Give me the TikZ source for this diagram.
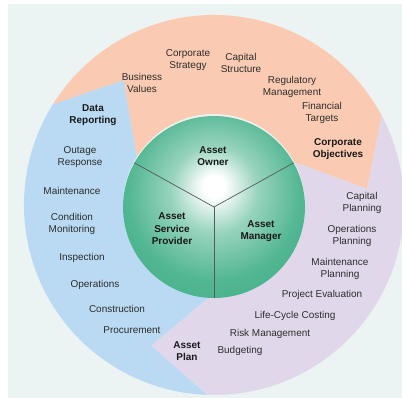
\documentclass[tikz,border=0pt]{standalone}
\usepackage{fontspec}
\setmainfont{Liberation Sans}
\begin{document}
\definecolor{panel}{RGB}{235,244,242}
\definecolor{peach}{RGB}{250,203,178}
\definecolor{skyb}{RGB}{185,218,242}
\definecolor{lav}{RGB}{225,215,235}
\definecolor{teal}{RGB}{38,164,118}
\definecolor{ink}{RGB}{45,45,45}
\pgfdeclareradialshading{greenball}{\pgfpoint{0bp}{6bp}}{%
  color(0bp)=(white); color(3bp)=(white);
  color(12bp)=(teal!48); color(24bp)=(teal!80); color(45bp)=(teal!95); color(58bp)=(teal)}
\begin{tikzpicture}[x=1bp,y=1bp,
  txt/.style={font=\fontsize{10}{12.5}\selectfont, text=ink, align=center, inner sep=0pt},
  lbl/.style={font=\fontsize{10}{12.5}\selectfont\bfseries, text=black!90, align=center, inner sep=0pt},
  divider/.style={draw=black!65, line width=0.7bp}]
\useasboundingbox (0,0) rectangle (402,398);
\fill[white] (0,0) rectangle (402,398);
\fill[panel] (8,0) rectangle (402,394);

\coordinate (C) at (214,193);

% three clockwise arrow-shaped bands of the outer ring
\begin{scope}[shift={(C)}]
  \fill[peach] (28:190) arc[start angle=28, end angle=148, radius=190]
    -- (126:154) -- (148:91) arc[start angle=148, end angle=28, radius=91]
    -- (6:154) -- cycle;
  \fill[skyb] (148:190) arc[start angle=148, end angle=268, radius=190]
    -- (246:154) -- (268:91) arc[start angle=268, end angle=148, radius=91]
    -- (126:154) -- cycle;
  \fill[lav] (268:190) arc[start angle=268, end angle=388, radius=190]
    -- (6:154) -- (28:91) arc[start angle=28, end angle=-92, radius=91]
    -- (246:154) -- cycle;
\end{scope}

% central disc with its three sectors
\node[circle, minimum size=182bp, inner sep=0pt, shading=greenball] (ball) at (214,191) {};
\draw[divider] (ball.center) -- (ball.151);
\draw[divider] (ball.center) -- (ball.29);
\draw[divider] (ball.center) -- (ball.270);

\node[lbl] (owner) at (213,242) {Asset\\Owner};
\node[lbl] (provider) at (172,169) {Asset\\Service\\Provider};
\node[lbl] (manager) at (261,167) {Asset\\Manager};

% corporate objectives band
\node[txt] (strategy) at (188,338) {Corporate\\Strategy};
\node[txt] (structure) at (241,335) {Capital\\Structure};
\node[txt] (values) at (142,315) {Business\\Values};
\node[txt] (regulatory) at (292,311) {Regulatory\\Management};
\node[txt] (financial) at (322,285) {Financial\\Targets};
\node[lbl] (objectives) at (338,249) {Corporate\\Objectives};

% data reporting band
\node[lbl] (reporting) at (93,283) {Data\\Reporting};
\node[txt] (outage) at (80,241) {Outage\\Response};
\node[txt] (maint) at (72,207) {Maintenance};
\node[txt] (condition) at (72,174) {Condition\\Monitoring};
\node[txt] (inspection) at (82,140) {Inspection};
\node[txt] (operations) at (95,113) {Operations};
\node[txt] (construction) at (117,89) {Construction};
\node[txt] (procurement) at (132,68) {Procurement};

% asset plan band
\node[txt] (capplan) at (362,195) {Capital\\Planning};
\node[txt] (opplan) at (352,162) {Operations\\Planning};
\node[txt] (mtplan) at (340,129) {Maintenance\\Planning};
\node[txt] (projeval) at (322,103) {Project Evaluation};
\node[txt] (lcc) at (295,82) {Life-Cycle Costing};
\node[txt] (risk) at (270,64) {Risk Management};
\node[txt] (budget) at (240,47) {Budgeting};
\node[lbl] (plan) at (187,47) {Asset\\Plan};
\end{tikzpicture}
\end{document}
